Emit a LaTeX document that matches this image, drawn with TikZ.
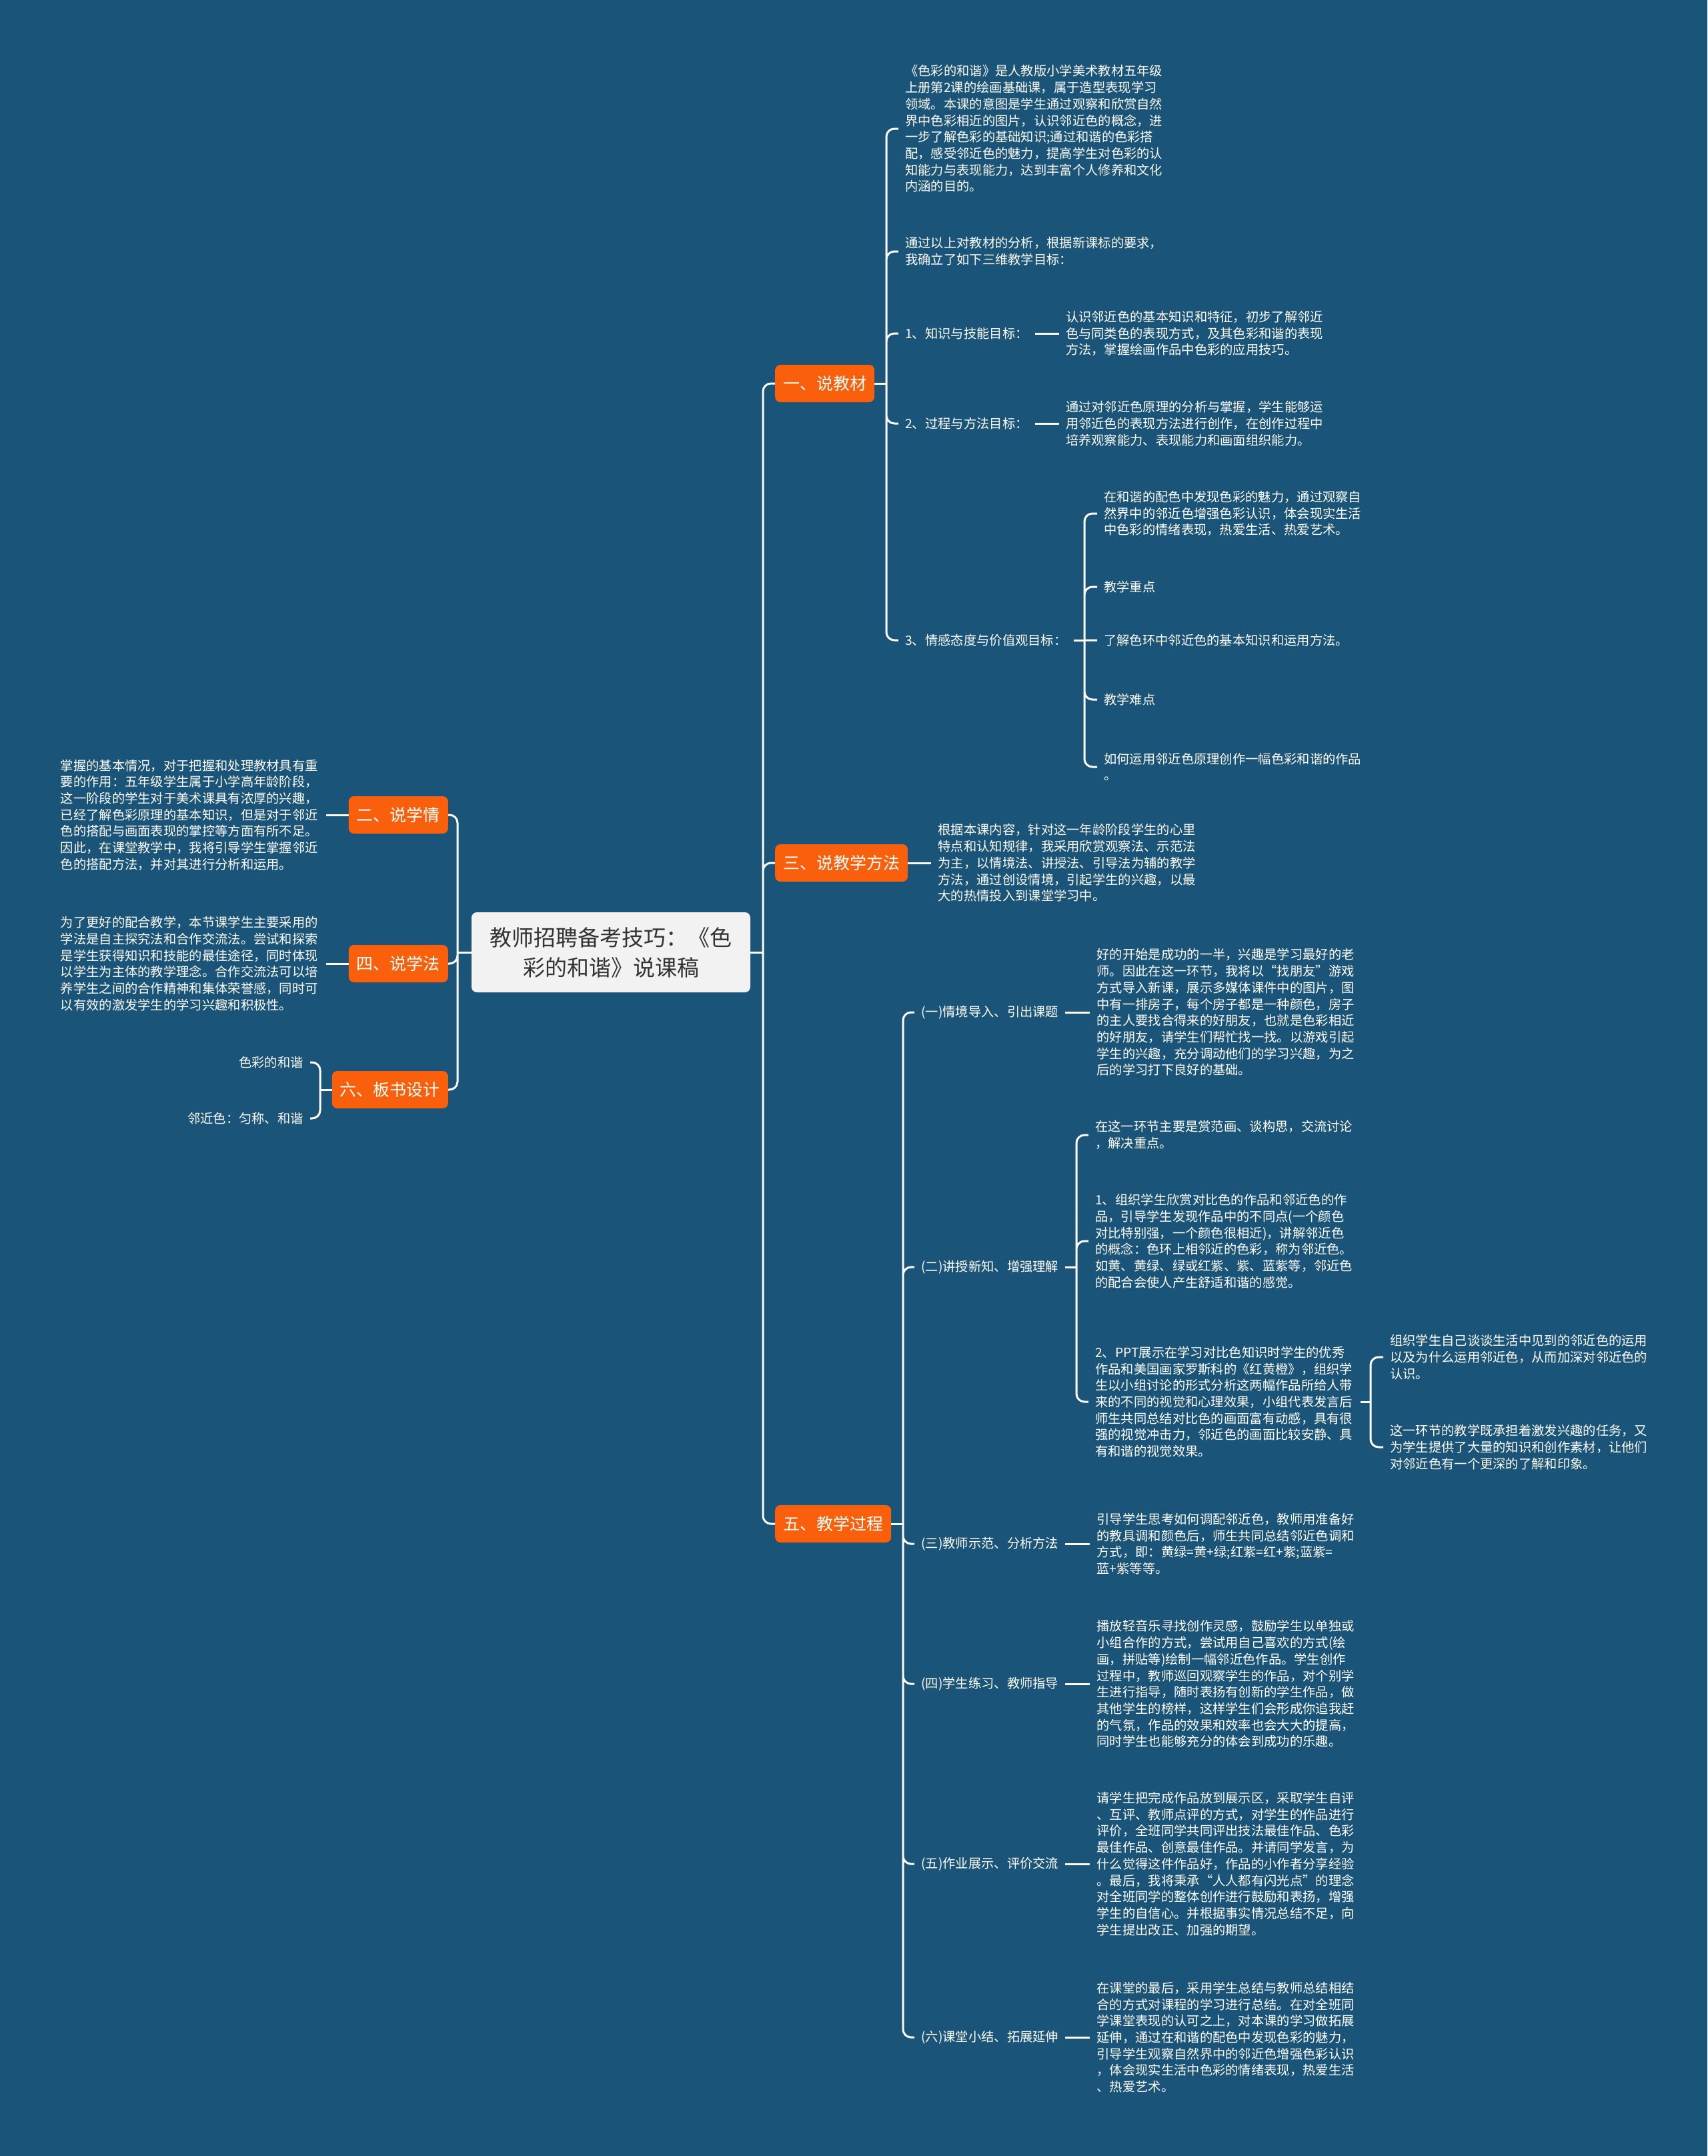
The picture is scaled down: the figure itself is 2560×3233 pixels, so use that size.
\documentclass[tikz,border=0pt]{standalone}
\usepackage{fontspec}
\setmainfont{Noto Sans CJK SC}
\usepackage{tikz}
\usetikzlibrary{positioning}

\definecolor{mapblue}{RGB}{27,84,121}
\definecolor{topicorange}{RGB}{250,96,12}
\definecolor{rootgray}{RGB}{242,242,242}
\definecolor{roottext}{RGB}{51,51,51}

\newcommand{\leaffont}{\fontsize{19.3pt}{24.7pt}\selectfont}
\newcommand{\topicfont}{\fontsize{25pt}{30pt}\selectfont}
\newcommand{\rootfont}{\fontsize{33pt}{45pt}\selectfont}

\tikzset{
  rootbox/.style = {
    rectangle, rounded corners=8pt,
    fill=rootgray, text=roottext, font=\rootfont,
    align=center, minimum width=418pt, minimum height=120pt
  },
  topic/.style = {
    rectangle, rounded corners=8pt,
    fill=topicorange, text=white, font=\topicfont,
    inner xsep=12pt, inner ysep=0pt, minimum height=56pt
  },
  leaf/.style = {
    text=white, font=\leaffont, align=left,
    text width=#1, inner xsep=10pt, inner ysep=2pt
  },
  leaf/.default = 388pt,
  lbl/.style  = {text=white, font=\leaffont, inner xsep=10pt, inner ysep=2pt},
  link/.style = {draw=white, line width=3pt, rounded corners=12pt},
}

\begin{document}
\begin{tikzpicture}[x=1pt, y=-1pt, node distance=36pt]

  \useasboundingbox (0,0) rectangle (2560,3233);
  \fill[mapblue] (0,0) rectangle (2560,3233);

  %% root and main topics
  \node[rootbox] (root) at (916,1428) {教师招聘备考技巧：《色\\彩的和谐》说课稿};
  \node[topic, anchor=west] (t1) at (1162,575)  {一、说教材};
  \node[topic, anchor=west] (t3) at (1162,1294) {三、说教学方法};
  \node[topic, anchor=west] (t5) at (1162,2285) {五、教学过程};
  \node[topic, anchor=east] (t2) at (672,1222)  {二、说学情};
  \node[topic, anchor=east] (t4) at (672,1445)  {四、说学法};
  \node[topic, anchor=east] (t6) at (672,1634)  {六、板书设计};

  \coordinate (jr)   at (1144,1428);
  \coordinate (jl)   at (686,1428);
  \coordinate (j1)   at (1329,575);
  \coordinate (j13)  at (1626,960);
  \coordinate (j5)   at (1354,2285);
  \coordinate (j52)  at (1614,1900);
  \coordinate (j522) at (2055,2102);
  \coordinate (j6)   at (480,1634);

  %% 一、说教材
  \node[leaf, anchor=west] (a1) at (1347,193) {《色彩的和谐》是人教版小学美术教材五年级\\
    上册第2课的绘画基础课，属于造型表现学习\\
    领域。本课的意图是学生通过观察和欣赏自然\\
    界中色彩相近的图片，认识邻近色的概念，进\\
    一步了解色彩的基础知识;通过和谐的色彩搭\\
    配，感受邻近色的魅力，提高学生对色彩的认\\
    知能力与表现能力，达到丰富个人修养和文化\\
    内涵的目的。};
  \node[leaf, anchor=west] (a2) at (1347,377) {通过以上对教材的分析，根据新课标的要求，\\
    我确立了如下三维教学目标：};
  \node[lbl, anchor=west] (k1) at (1347,500) {1、知识与技能目标：};
  \node[leaf, right=of k1] (k1t) {认识邻近色的基本知识和特征，初步了解邻近\\
    色与同类色的表现方式，及其色彩和谐的表现\\
    方法，掌握绘画作品中色彩的应用技巧。};
  \node[lbl, anchor=west] (k2) at (1347,635) {2、过程与方法目标：};
  \node[leaf, right=of k2] (k2t) {通过对邻近色原理的分析与掌握，学生能够运\\
    用邻近色的表现方法进行创作，在创作过程中\\
    培养观察能力、表现能力和画面组织能力。};
  \node[lbl, anchor=west] (k3) at (1347,960) {3、情感态度与价值观目标：};
  \node[leaf, anchor=west] (e1) at (1645,770) {在和谐的配色中发现色彩的魅力，通过观察自\\
    然界中的邻近色增强色彩认识，体会现实生活\\
    中色彩的情绪表现，热爱生活、热爱艺术。};
  \node[lbl, anchor=west] (e2) at (1645,880)  {教学重点};
  \node[lbl, anchor=west] (e3) at (1645,960)  {了解色环中邻近色的基本知识和运用方法。};
  \node[lbl, anchor=west] (e4) at (1645,1049) {教学难点};
  \node[leaf, anchor=west] (e5) at (1645,1150) {如何运用邻近色原理创作一幅色彩和谐的作品\\
    。};

  %% 三、说教学方法
  \node[leaf, right=35pt of t3] (m3) {根据本课内容，针对这一年龄阶段学生的心里\\
    特点和认知规律，我采用欣赏观察法、示范法\\
    为主，以情境法、讲授法、引导法为辅的教学\\
    方法，通过创设情境，引起学生的兴趣，以最\\
    大的热情投入到课堂学习中。};

  %% 二、说学情 / 四、说学法 / 六、板书设计
  \node[leaf, anchor=east] (l2) at (489,1222) {掌握的基本情况，对于把握和处理教材具有重\\
    要的作用：五年级学生属于小学高年龄阶段，\\
    这一阶段的学生对于美术课具有浓厚的兴趣，\\
    已经了解色彩原理的基本知识，但是对于邻近\\
    色的搭配与画面表现的掌控等方面有所不足。\\
    因此，在课堂教学中，我将引导学生掌握邻近\\
    色的搭配方法，并对其进行分析和运用。};
  \node[leaf, anchor=east] (l4) at (489,1445) {为了更好的配合教学，本节课学生主要采用的\\
    学法是自主探究法和合作交流法。尝试和探索\\
    是学生获得知识和技能的最佳途径，同时体现\\
    以学生为主体的教学理念。合作交流法可以培\\
    养学生之间的合作精神和集体荣誉感，同时可\\
    以有效的激发学生的学习兴趣和积极性。};
  \node[lbl, anchor=east] (b1) at (465,1593) {色彩的和谐};
  \node[lbl, anchor=east] (b2) at (465,1677) {邻近色：匀称、和谐};

  %% 五、教学过程
  \node[lbl, anchor=west] (s1) at (1371,1518) {(一)情境导入、引出课题};
  \node[leaf, right=37pt of s1] (s1t) {好的开始是成功的一半，兴趣是学习最好的老\\
    师。因此在这一环节，我将以“找朋友”游戏\\
    方式导入新课，展示多媒体课件中的图片，图\\
    中有一排房子，每个房子都是一种颜色，房子\\
    的主人要找合得来的好朋友，也就是色彩相近\\
    的好朋友，请学生们帮忙找一找。以游戏引起\\
    学生的兴趣，充分调动他们的学习兴趣，为之\\
    后的学习打下良好的基础。};
  \node[lbl, anchor=west] (s2) at (1371,1900) {(二)讲授新知、增强理解};
  \node[leaf, anchor=west] (s2a) at (1632,1702) {在这一环节主要是赏范画、谈构思，交流讨论\\
    ，解决重点。};
  \node[leaf, anchor=west] (s2b) at (1632,1861) {1、组织学生欣赏对比色的作品和邻近色的作\\
    品，引导学生发现作品中的不同点(一个颜色\\
    对比特别强，一个颜色很相近)，讲解邻近色\\
    的概念：色环上相邻近的色彩，称为邻近色。\\
    如黄、黄绿、绿或红紫、紫、蓝紫等，邻近色\\
    的配合会使人产生舒适和谐的感觉。};
  \node[leaf, anchor=west] (s2c) at (1632,2102) {2、PPT展示在学习对比色知识时学生的优秀\\
    作品和美国画家罗斯科的《红黄橙》，组织学\\
    生以小组讨论的形式分析这两幅作品所给人带\\
    来的不同的视觉和心理效果，小组代表发言后\\
    师生共同总结对比色的画面富有动感，具有很\\
    强的视觉冲击力，邻近色的画面比较安静、具\\
    有和谐的视觉效果。};
  \node[leaf, anchor=west] (s2c1) at (2074,2035) {组织学生自己谈谈生活中见到的邻近色的运用\\
    以及为什么运用邻近色，从而加深对邻近色的\\
    认识。};
  \node[leaf, anchor=west] (s2c2) at (2074,2170) {这一环节的教学既承担着激发兴趣的任务，又\\
    为学生提供了大量的知识和创作素材，让他们\\
    对邻近色有一个更深的了解和印象。};
  \node[lbl, anchor=west] (s3) at (1371,2315) {(三)教师示范、分析方法};
  \node[leaf, right=37pt of s3] (s3t) {引导学生思考如何调配邻近色，教师用准备好\\
    的教具调和颜色后，师生共同总结邻近色调和\\
    方式，即：黄绿=黄+绿;红紫=红+紫;蓝紫=\\
    蓝+紫等等。};
  \node[lbl, anchor=west] (s4) at (1371,2525) {(四)学生练习、教师指导};
  \node[leaf, right=37pt of s4] (s4t) {播放轻音乐寻找创作灵感，鼓励学生以单独或\\
    小组合作的方式，尝试用自己喜欢的方式(绘\\
    画，拼贴等)绘制一幅邻近色作品。学生创作\\
    过程中，教师巡回观察学生的作品，对个别学\\
    生进行指导，随时表扬有创新的学生作品，做\\
    其他学生的榜样，这样学生们会形成你追我赶\\
    的气氛，作品的效果和效率也会大大的提高，\\
    同时学生也能够充分的体会到成功的乐趣。};
  \node[lbl, anchor=west] (s5) at (1371,2795) {(五)作业展示、评价交流};
  \node[leaf, right=37pt of s5] (s5t) {请学生把完成作品放到展示区，采取学生自评\\
    、互评、教师点评的方式，对学生的作品进行\\
    评价，全班同学共同评出技法最佳作品、色彩\\
    最佳作品、创意最佳作品。并请同学发言，为\\
    什么觉得这件作品好，作品的小作者分享经验\\
    。最后，我将秉承“人人都有闪光点”的理念\\
    对全班同学的整体创作进行鼓励和表扬，增强\\
    学生的自信心。并根据事实情况总结不足，向\\
    学生提出改正、加强的期望。};
  \node[lbl, anchor=west] (s6) at (1371,3055) {(六)课堂小结、拓展延伸};
  \node[leaf, right=37pt of s6] (s6t) {在课堂的最后，采用学生总结与教师总结相结\\
    合的方式对课程的学习进行总结。在对全班同\\
    学课堂表现的认可之上，对本课的学习做拓展\\
    延伸，通过在和谐的配色中发现色彩的魅力，\\
    引导学生观察自然界中的邻近色增强色彩认识\\
    ，体会现实生活中色彩的情绪表现，热爱生活\\
    、热爱艺术。};

  %% links: root to topics
  \draw[link] (root.east) -- (jr);
  \draw[link] (jr) |- (t1.west) (jr) |- (t3.west) (jr) |- (t5.west);
  \draw[link] (root.west) -- (jl);
  \draw[link] (jl) |- (t2.east) (jl) |- (t4.east) (jl) |- (t6.east);

  %% links: 一、说教材
  \draw[link] (t1.east) -- (j1);
  \draw[link] (j1) |- (a1.west) (j1) |- (a2.west) (j1) |- (k1.west)
              (j1) |- (k2.west) (j1) |- (k3.west);
  \draw[link] (k1) -- (k1t);
  \draw[link] (k2) -- (k2t);
  \draw[link] (k3.east) -- (j13);
  \draw[link] (j13) |- (e1.west) (j13) |- (e2.west) (j13) -- (e3.west)
              (j13) |- (e4.west) (j13) |- (e5.west);

  %% links: left side
  \draw[link] (t3) -- (m3);
  \draw[link] (l2) -- (t2);
  \draw[link] (l4) -- (t4);
  \draw[link] (t6.west) -- (j6);
  \draw[link] (j6) |- (b1.east) (j6) |- (b2.east);

  %% links: 五、教学过程
  \draw[link] (t5.east) -- (j5);
  \draw[link] (j5) |- (s1.west) (j5) |- (s2.west) (j5) |- (s3.west)
              (j5) |- (s4.west) (j5) |- (s5.west) (j5) |- (s6.west);
  \draw[link] (s1) -- (s1t);
  \draw[link] (s2.east) -- (j52);
  \draw[link] (j52) |- (s2a.west) (j52) |- (s2b.west) (j52) |- (s2c.west);
  \draw[link] (s2c.east) -- (j522);
  \draw[link] (j522) |- (s2c1.west) (j522) |- (s2c2.west);
  \draw[link] (s3) -- (s3t);
  \draw[link] (s4) -- (s4t);
  \draw[link] (s5) -- (s5t);
  \draw[link] (s6) -- (s6t);

\end{tikzpicture}
\end{document}
